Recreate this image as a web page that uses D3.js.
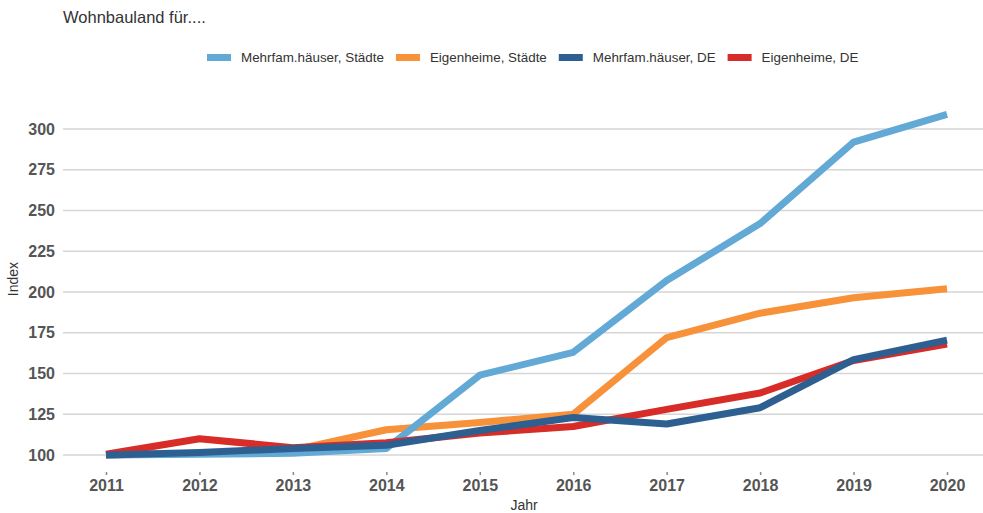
<!DOCTYPE html>
<html>
<head>
<meta charset="utf-8">
<script src="https://cdn.jsdelivr.net/npm/d3@7"></script>
<style>
  body { margin: 0; background: #fff; }
  svg { font-family: Arial, "Liberation Sans", sans-serif; }
</style>
</head>
<body>
<div id="chart"></div>
<script>
// Chart data
const years = [2011, 2012, 2013, 2014, 2015, 2016, 2017, 2018, 2019, 2020];
const mfhStaedte = [100, 100.5, 101, 104, 149, 163, 207, 242, 292, 309];
const ehStaedte = [100, 101, 103, 115.5, 120, 125, 172, 187, 196.5, 202];
const mfhDE = [100, 101.5, 104, 106, 115, 123, 119, 129, 158.5, 170.5];
const ehDE = [100.5, 110, 104.5, 107.5, 113.5, 117.5, 128, 138, 158, 168];
const yTicks = [100, 125, 150, 175, 200, 225, 250, 275, 300];

const seriesNames = ['Mehrfam.häuser, Städte', 'Eigenheime, Städte', 'Mehrfam.häuser, DE', 'Eigenheime, DE'];
const seriesValues = [mfhStaedte, ehStaedte, mfhDE, ehDE];
const colors = ['#62a9d6', '#f7923a', '#2e5f91', '#d72c28'];
// drawing order (last on top)
const drawOrder = [1, 0, 3, 2];

const width = 983, height = 513;

const svg = d3.select('#chart')
  .append('svg')
  .attr('width', width)
  .attr('height', height);

// Scales
const x = d3.scalePoint()
  .domain(years)
  .range([106, 947]);

const y = d3.scaleLinear()
  .domain([100, 300])
  .range([455, 129]);

// Title
svg.append('text')
  .attr('x', 63)
  .attr('y', 23)
  .attr('fill', '#333')
  .attr('font-size', '16.5px')
  .text('Wohnbauland für....');

// Gridlines
svg.append('g')
  .selectAll('line')
  .data(yTicks)
  .join('line')
  .attr('x1', 63)
  .attr('x2', 983)
  .attr('y1', d => y(d))
  .attr('y2', d => y(d))
  .attr('stroke', '#d6d6d6')
  .attr('stroke-width', 1.5);

// Y axis
const yAxis = d3.axisLeft(y)
  .tickValues(yTicks)
  .tickSize(0)
  .tickPadding(0);

svg.append('g')
  .attr('transform', 'translate(55,0)')
  .call(yAxis)
  .call(g => g.select('.domain').remove())
  .call(g => g.selectAll('text')
    .attr('fill', '#555')
    .attr('font-size', '16px')
    .attr('font-weight', 'bold')
    .attr('font-family', 'Arial, "Liberation Sans", sans-serif'));

// X axis
const xAxis = d3.axisBottom(x)
  .tickSize(3)
  .tickPadding(5)
  .tickFormat(d3.format('d'));

svg.append('g')
  .attr('transform', 'translate(0,472)')
  .call(xAxis)
  .call(g => g.select('.domain').remove())
  .call(g => g.selectAll('.tick line').attr('stroke', '#888').attr('stroke-width', 1.5))
  .call(g => g.selectAll('text')
    .attr('fill', '#555')
    .attr('font-size', '16px')
    .attr('font-weight', 'bold')
    .attr('font-family', 'Arial, "Liberation Sans", sans-serif'));

// Axis labels
svg.append('text')
  .attr('x', 524)
  .attr('y', 510)
  .attr('text-anchor', 'middle')
  .attr('fill', '#333')
  .attr('font-size', '14px')
  .text('Jahr');

svg.append('text')
  .attr('transform', 'translate(18,279) rotate(-90)')
  .attr('text-anchor', 'middle')
  .attr('fill', '#333')
  .attr('font-size', '14px')
  .text('Index');

// Lines
const line = d3.line()
  .x((d, i) => x(years[i]))
  .y(d => y(d));

svg.append('g')
  .selectAll('path')
  .data(drawOrder)
  .join('path')
  .attr('d', i => line(seriesValues[i]))
  .attr('fill', 'none')
  .attr('stroke', i => colors[i])
  .attr('stroke-width', 7)
  .attr('stroke-linejoin', 'round');

// Legend
const legend = svg.append('g');
let lx = 207;
seriesNames.forEach((name, i) => {
  legend.append('rect')
    .attr('x', lx)
    .attr('y', 54)
    .attr('width', 24)
    .attr('height', 7)
    .attr('fill', colors[i]);
  const t = legend.append('text')
    .attr('x', lx + 34)
    .attr('y', 62)
    .attr('fill', '#333')
    .attr('font-size', '13.4px')
    .text(name);
  lx += 34 + t.node().getComputedTextLength() + 12;
});
</script>
</body>
</html>
